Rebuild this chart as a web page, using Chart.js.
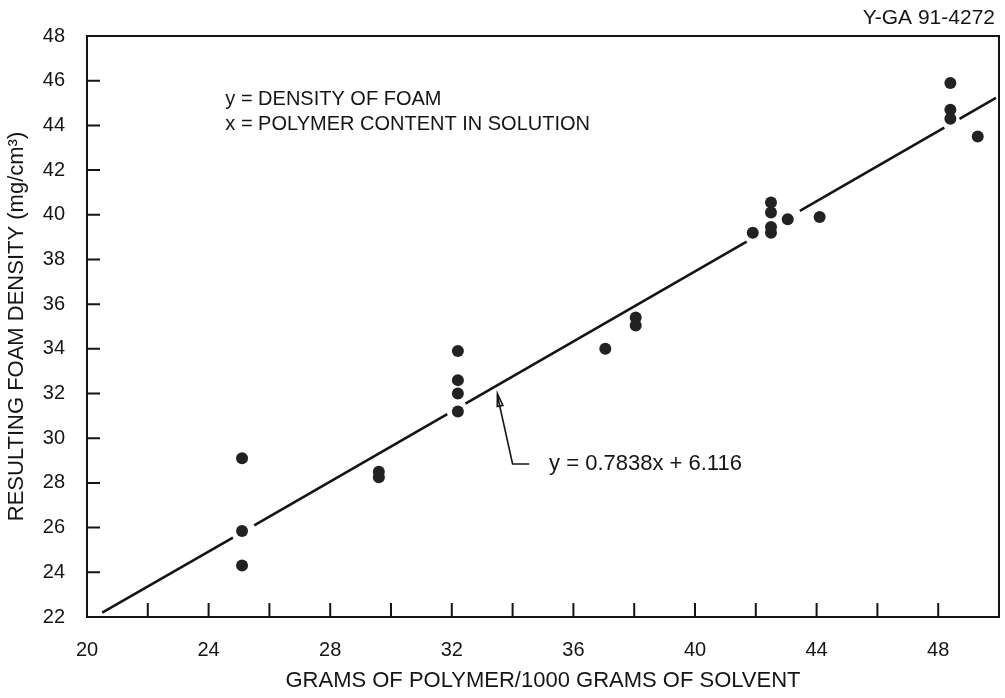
<!DOCTYPE html>
<html>
<head>
<meta charset="utf-8">
<title>Foam density vs polymer content</title>
<script src="https://cdn.jsdelivr.net/npm/chart.js@4.4.0/dist/chart.umd.min.js"></script>
<style>
  html, body { margin:0; padding:0; background:#fff; }
  #wrap { width:1005px; height:698px; }
</style>
</head>
<body>
<div id="wrap"><canvas id="chartFoam" width="1005" height="698"></canvas></div>
<script>
// DATA
const polymerX = [25.1, 25.1, 25.1, 29.6, 29.6, 32.2, 32.2, 32.2, 32.2, 37.05, 38.05, 38.05,
                  41.9, 42.5, 42.5, 42.5, 42.5, 43.05, 44.1, 48.4, 48.4, 48.4, 49.3];
const densityY = [29.1, 25.85, 24.3, 28.5, 28.25, 33.9, 32.6, 32.0, 31.2, 34.0, 35.4, 35.05,
                  39.2, 40.55, 40.1, 39.45, 39.2, 39.8, 39.9, 45.9, 44.7, 44.3, 43.5];

// fitted line, drawn as pieces (pairs of ends) with gaps where it passes the dots
const fitX = [20.5, 24.8, 25.5, 31.85, 32.45, 41.7, 43.45, 48.2, 48.7, 49.9];
const fitY = [22.2, 25.55, 26.1, 31.08, 31.55, 38.8, 40.17, 43.9, 44.29, 45.23];

const xTickLabels = [20, 24, 28, 32, 36, 40, 44, 48];
const yTickLabels = [22, 24, 26, 28, 30, 32, 34, 36, 38, 40, 42, 44, 46, 48];

const legendLines = ['y = DENSITY OF FOAM', 'x = POLYMER CONTENT IN SOLUTION'];
const fitLabel = 'y = 0.7838x + 6.116';
const figureId = 'Y-GA 91-4272';

document.addEventListener('DOMContentLoaded', () => {
  const FONT = '"Liberation Sans", Arial, Helvetica, sans-serif';
  const INK = '#151515';

  // build line data with null breaks between the pieces
  const fitData = [];
  for (let i = 0; i < fitX.length; i += 2) {
    if (i > 0) fitData.push({ x: (fitX[i - 1] + fitX[i]) / 2, y: null });
    fitData.push({ x: fitX[i], y: fitY[i] });
    fitData.push({ x: fitX[i + 1], y: fitY[i + 1] });
  }
  const pts = polymerX.map((x, i) => ({ x, y: densityY[i] }));

  // frame, inward ticks, notes and arrow
  const decor = {
    id: 'decor',
    afterDatasetsDraw(chart) {
      const { ctx, chartArea: a, scales: { x: sx, y: sy } } = chart;
      ctx.save();
      ctx.strokeStyle = INK;
      ctx.lineWidth = 2;
      ctx.strokeRect(a.left, a.top, a.right - a.left, a.bottom - a.top);

      ctx.beginPath();
      sx.ticks.forEach(t => {
        if (t.value <= sx.min || t.value >= sx.max) return;
        const px = sx.getPixelForValue(t.value);
        ctx.moveTo(px, a.bottom);
        ctx.lineTo(px, a.bottom - 14);
      });
      sy.ticks.forEach(t => {
        if (t.value <= sy.min || t.value >= sy.max) return;
        const py = sy.getPixelForValue(t.value);
        ctx.moveTo(a.left, py);
        ctx.lineTo(a.left + 13, py);
      });
      ctx.stroke();

      ctx.fillStyle = INK;
      ctx.textBaseline = 'middle';
      ctx.textAlign = 'left';
      ctx.font = '20px ' + FONT;
      ctx.fillText(legendLines[0], sx.getPixelForValue(24.55), sy.getPixelForValue(45.18));
      ctx.fillText(legendLines[1], sx.getPixelForValue(24.55), sy.getPixelForValue(44.06));

      // arrow pointing at the fitted line
      const tipX = sx.getPixelForValue(33.5), tipY = sy.getPixelForValue(32.0);
      const cx = sx.getPixelForValue(34.0), cy = sy.getPixelForValue(28.85);
      const ex = sx.getPixelForValue(34.55);
      ctx.lineWidth = 1.6;
      ctx.beginPath();
      ctx.moveTo(ex, cy);
      ctx.lineTo(cx, cy);
      ctx.lineTo(tipX, tipY + 2);
      ctx.stroke();
      const ang = Math.atan2(tipY - cy, tipX - cx);
      ctx.beginPath();
      ctx.moveTo(tipX, tipY);
      ctx.lineTo(tipX - 13 * Math.cos(ang - 0.22), tipY - 13 * Math.sin(ang - 0.22));
      ctx.lineTo(tipX - 13 * Math.cos(ang + 0.22), tipY - 13 * Math.sin(ang + 0.22));
      ctx.closePath();
      ctx.stroke();

      ctx.font = '22px ' + FONT;
      ctx.fillText(fitLabel, sx.getPixelForValue(35.2), cy);

      ctx.font = '21px ' + FONT;
      ctx.textAlign = 'right';
      ctx.fillText(figureId, chart.width - 10, 18);
      ctx.restore();
    }
  };

  new Chart(document.getElementById('chartFoam').getContext('2d'), {
    type: 'scatter',
    data: {
      datasets: [
        { data: pts, pointRadius: 6, pointHoverRadius: 6, backgroundColor: '#222',
          borderWidth: 0, order: 0 },
        { data: fitData, showLine: true, spanGaps: false, pointRadius: 0,
          borderColor: INK, borderWidth: 2.6, order: 1 }
      ]
    },
    options: {
      responsive: false,
      animation: false,
      devicePixelRatio: 1,
      layout: { padding: { top: 36, right: 6, bottom: 0, left: 0 } },
      plugins: { legend: { display: false }, tooltip: { enabled: false } },
      scales: {
        x: {
          type: 'linear', min: 20, max: 50,
          grid: { display: false, drawTicks: false },
          border: { display: false },
          ticks: {
            stepSize: 2, autoSkip: false, maxRotation: 0, padding: 21,
            color: INK, font: { family: FONT, size: 20 },
            callback: v => xTickLabels.includes(v) ? String(v) : ''
          },
          title: {
            display: true, text: 'GRAMS OF POLYMER/1000 GRAMS OF SOLVENT',
            color: INK, font: { family: FONT, size: 22 }, padding: { top: 0, bottom: 4 }
          },
          afterFit: s => { s.height = 81; s.paddingRight = 0; s.paddingLeft = 0; }
        },
        y: {
          type: 'linear', min: 22, max: 48,
          grid: { display: false, drawTicks: false },
          border: { display: false },
          ticks: {
            stepSize: 2, autoSkip: false, padding: 22,
            color: INK, font: { family: FONT, size: 20 },
            callback: v => yTickLabels.includes(v) ? String(v) : ''
          },
          title: {
            display: true, text: 'RESULTING FOAM DENSITY (mg/cm³)',
            color: INK, font: { family: FONT, size: 22 }, padding: { top: 4, bottom: 0 }
          },
          afterFit: s => { s.width = 87; }
        }
      }
    },
    plugins: [decor]
  });
});
</script>
</body>
</html>
